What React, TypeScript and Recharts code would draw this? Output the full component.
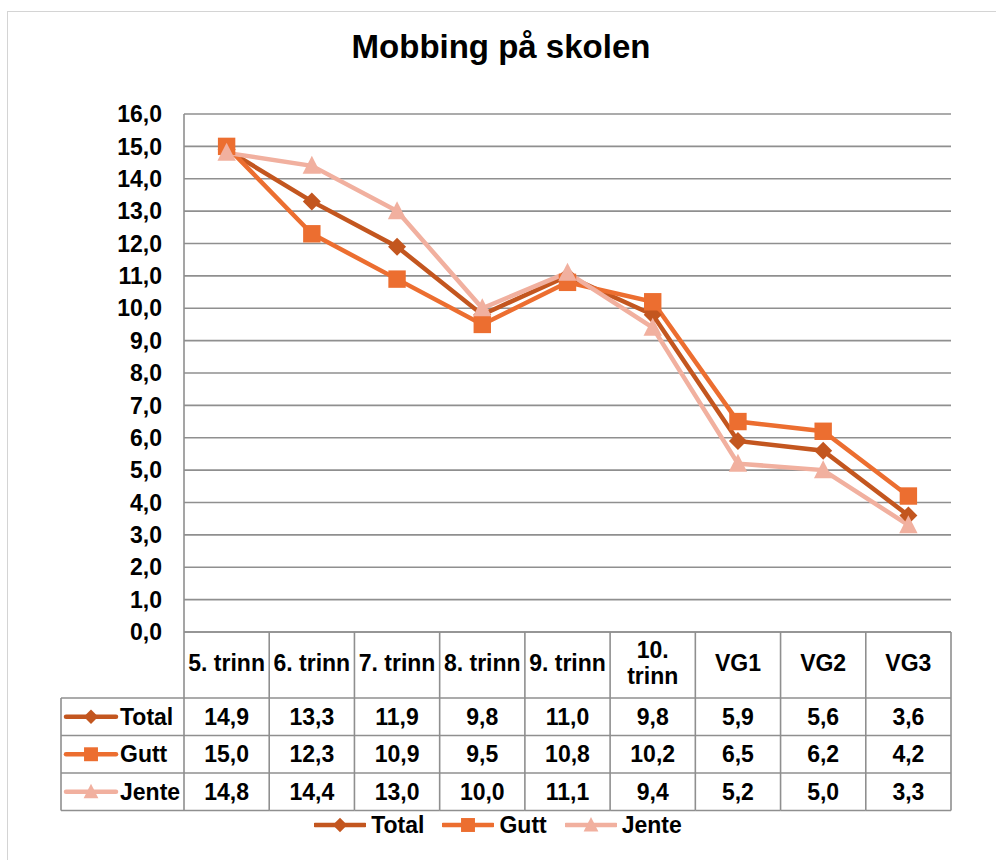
import React from 'react';
import { LineChart, Line, XAxis, YAxis, CartesianGrid, Legend } from 'recharts';

const categories = ['5. trinn', '6. trinn', '7. trinn', '8. trinn', '9. trinn', '10. trinn', 'VG1', 'VG2', 'VG3'];
const totalValues = [14.9, 13.3, 11.9, 9.8, 11.0, 9.8, 5.9, 5.6, 3.6];
const guttValues = [15.0, 12.3, 10.9, 9.5, 10.8, 10.2, 6.5, 6.2, 4.2];
const jenteValues = [14.8, 14.4, 13.0, 10.0, 11.1, 9.4, 5.2, 5.0, 3.3];
const yTicks = [0, 1, 2, 3, 4, 5, 6, 7, 8, 9, 10, 11, 12, 13, 14, 15, 16];
const seriesNames = ['Total', 'Gutt', 'Jente'];
const seriesValues = [totalValues, guttValues, jenteValues];
const seriesColors = ['#C3561F', '#EC6E30', '#F1B09F'];
const seriesMarkers = ['diamond', 'square', 'triangle'];

const data = categories.map((c, i) => ({
  cat: c,
  Total: totalValues[i],
  Gutt: guttValues[i],
  Jente: jenteValues[i],
}));

const W = 996;
const H = 860;
const PLOT_LEFT = 184;
const PLOT_RIGHT = 951;
const PLOT_TOP = 114;
const PLOT_BOTTOM = 632;
const YAXIS_W = 60;
const XAXIS_H = 180;
const BAND = (PLOT_RIGHT - PLOT_LEFT) / categories.length;
const HEADER_BOTTOM = 698;
const ROW_H = 37.5;
const LABEL_LEFT = 61;
const GRID = '#8f8f8f';
const FONT = '"Liberation Sans", Arial, Helvetica, sans-serif';
const FS = 23;

const fmt = (v: number) => v.toFixed(1).replace('.', ',');

function Marker({ type, cx, cy, color, s = 1 }: { type: string; cx: number; cy: number; color: string; s?: number }) {
  if (type === 'diamond') {
    const r = 9 * s;
    return <polygon points={`${cx},${cy - r} ${cx + r},${cy} ${cx},${cy + r} ${cx - r},${cy}`} fill={color} />;
  }
  if (type === 'square') {
    const r = 8.7 * s;
    return <rect x={cx - r} y={cy - r} width={2 * r} height={2 * r} fill={color} />;
  }
  const hw = 9.2 * s;
  return (
    <polygon
      points={`${cx},${cy - 10 * s} ${cx + hw},${cy + 8 * s} ${cx - hw},${cy + 8 * s}`}
      fill={color}
    />
  );
}

function SeriesIcon({ idx, x, y }: { idx: number; x: number; y: number }) {
  return (
    <g>
      <line x1={x} y1={y} x2={x + 50} y2={y} stroke={seriesColors[idx]} strokeWidth={4.5} strokeLinecap="round" />
      <Marker type={seriesMarkers[idx]} cx={x + 25} cy={y} color={seriesColors[idx]} s={0.8} />
    </g>
  );
}

const makeDot = (idx: number) => (props: any) => {
  const { cx, cy, index } = props;
  if (cx == null || cy == null) return <g key={`d${idx}-${index}`} />;
  return (
    <g key={`d${idx}-${index}`}>
      <Marker type={seriesMarkers[idx]} cx={cx} cy={cy} color={seriesColors[idx]} />
    </g>
  );
};

const TableTick = (props: any) => {
  const { x, payload, index } = props;
  const i: number = payload && payload.index != null ? payload.index : index;
  const label: string = categories[i];
  const left = x - BAND / 2;
  const right = x + BAND / 2;
  const tableBottom = HEADER_BOTTOM + ROW_H * 3;
  const lines = label.length > 8 ? label.split(' ') : [label];
  const headerMid = (PLOT_BOTTOM + HEADER_BOTTOM) / 2 - 2;
  const textStyle = { fontFamily: FONT, fontSize: FS, fontWeight: 700, fill: '#000' } as any;
  return (
    <g>
      {lines.map((ln, k) => (
        <text
          key={k}
          x={x}
          y={headerMid + (k - (lines.length - 1) / 2) * 26}
          textAnchor="middle"
          dominantBaseline="central"
          style={textStyle}
        >
          {ln}
        </text>
      ))}
      {seriesValues.map((vals, r) => (
        <text
          key={`v${r}`}
          x={x}
          y={HEADER_BOTTOM + ROW_H * r + ROW_H / 2}
          textAnchor="middle"
          dominantBaseline="central"
          style={textStyle}
        >
          {fmt(vals[i])}
        </text>
      ))}
      <line x1={right} y1={PLOT_BOTTOM} x2={right} y2={tableBottom} stroke={GRID} strokeWidth={1.6} />
      {i === 0 && <line x1={left} y1={PLOT_BOTTOM} x2={left} y2={tableBottom} stroke={GRID} strokeWidth={1.6} />}
      {[0, 1, 2, 3].map((r) => (
        <line
          key={`h${r}`}
          x1={left}
          y1={HEADER_BOTTOM + ROW_H * r}
          x2={right}
          y2={HEADER_BOTTOM + ROW_H * r}
          stroke={GRID}
          strokeWidth={1.6}
        />
      ))}
      {i === 0 && (
        <g>
          <line x1={LABEL_LEFT} y1={HEADER_BOTTOM} x2={LABEL_LEFT} y2={tableBottom} stroke={GRID} strokeWidth={1.6} />
          {[0, 1, 2, 3].map((r) => (
            <line
              key={`lh${r}`}
              x1={LABEL_LEFT}
              y1={HEADER_BOTTOM + ROW_H * r}
              x2={left}
              y2={HEADER_BOTTOM + ROW_H * r}
              stroke={GRID}
              strokeWidth={1.6}
            />
          ))}
          {seriesNames.map((nm, r) => {
            const cy = HEADER_BOTTOM + ROW_H * r + ROW_H / 2;
            return (
              <g key={`ln${r}`}>
                <SeriesIcon idx={r} x={LABEL_LEFT + 5} y={cy} />
                <text x={LABEL_LEFT + 59} y={cy} dominantBaseline="central" style={textStyle}>
                  {nm}
                </text>
              </g>
            );
          })}
        </g>
      )}
    </g>
  );
};

const LegendContent = () => (
  <div
    style={{
      display: 'flex',
      justifyContent: 'center',
      alignItems: 'center',
      fontFamily: FONT,
      fontSize: FS,
      fontWeight: 700,
      color: '#000',
      lineHeight: '28px',
    }}
  >
    {seriesNames.map((nm, idx) => (
      <div key={nm} style={{ display: 'flex', alignItems: 'center', marginRight: idx < 2 ? 18 : 0 }}>
        <svg width={52} height={22} style={{ marginRight: 5 }}>
          <SeriesIcon idx={idx} x={1} y={11} />
        </svg>
        <span>{nm}</span>
      </div>
    ))}
  </div>
);

export default function App() {
  return (
    <div style={{ position: 'absolute', left: 0, top: 0, width: W, height: H, overflow: 'hidden', background: '#fff' }}>
      <div
        style={{
          position: 'absolute',
          left: 7,
          top: 11,
          width: W + 20,
          height: H + 20,
          border: '1px solid #d4d4d4',
        }}
      />
      <div
        style={{
          position: 'absolute',
          left: 3,
          top: 28,
          width: W,
          textAlign: 'center',
          fontFamily: FONT,
          fontSize: 33,
          fontWeight: 700,
          lineHeight: '38px',
          color: '#000',
        }}
      >
        Mobbing på skolen
      </div>
      <div style={{ position: 'absolute', left: 0, top: 0 }}>
        <LineChart
          width={W}
          height={H}
          data={data}
          margin={{ top: PLOT_TOP, right: W - PLOT_RIGHT, left: PLOT_LEFT - YAXIS_W, bottom: H - PLOT_BOTTOM - XAXIS_H }}
        >
          <CartesianGrid vertical={false} stroke={GRID} strokeWidth={1.6} />
          <XAxis
            dataKey="cat"
            type="category"
            height={XAXIS_H}
            interval={0}
            tickLine={false}
            axisLine={{ stroke: GRID, strokeWidth: 1.6 }}
            padding={{ left: BAND / 2, right: BAND / 2 }}
            tick={<TableTick />}
          />
          <YAxis
            width={YAXIS_W}
            domain={[0, 16]}
            ticks={yTicks}
            interval={0}
            tickLine={false}
            tickSize={0}
            tickMargin={22}
            axisLine={{ stroke: GRID, strokeWidth: 1.6 }}
            tickFormatter={fmt}
            tick={{ fontFamily: FONT, fontSize: FS, fontWeight: 700, fill: '#000' }}
          />
          <Legend
            layout="horizontal"
            verticalAlign="middle"
            align="center"
            wrapperStyle={{ left: 0, top: 811, width: W }}
            content={<LegendContent />}
          />
          {seriesNames.map((nm, idx) => (
            <Line
              key={nm}
              dataKey={nm}
              stroke={seriesColors[idx]}
              strokeWidth={4.5}
              dot={makeDot(idx)}
              activeDot={false}
              isAnimationActive={false}
            />
          ))}
        </LineChart>
      </div>
    </div>
  );
}
